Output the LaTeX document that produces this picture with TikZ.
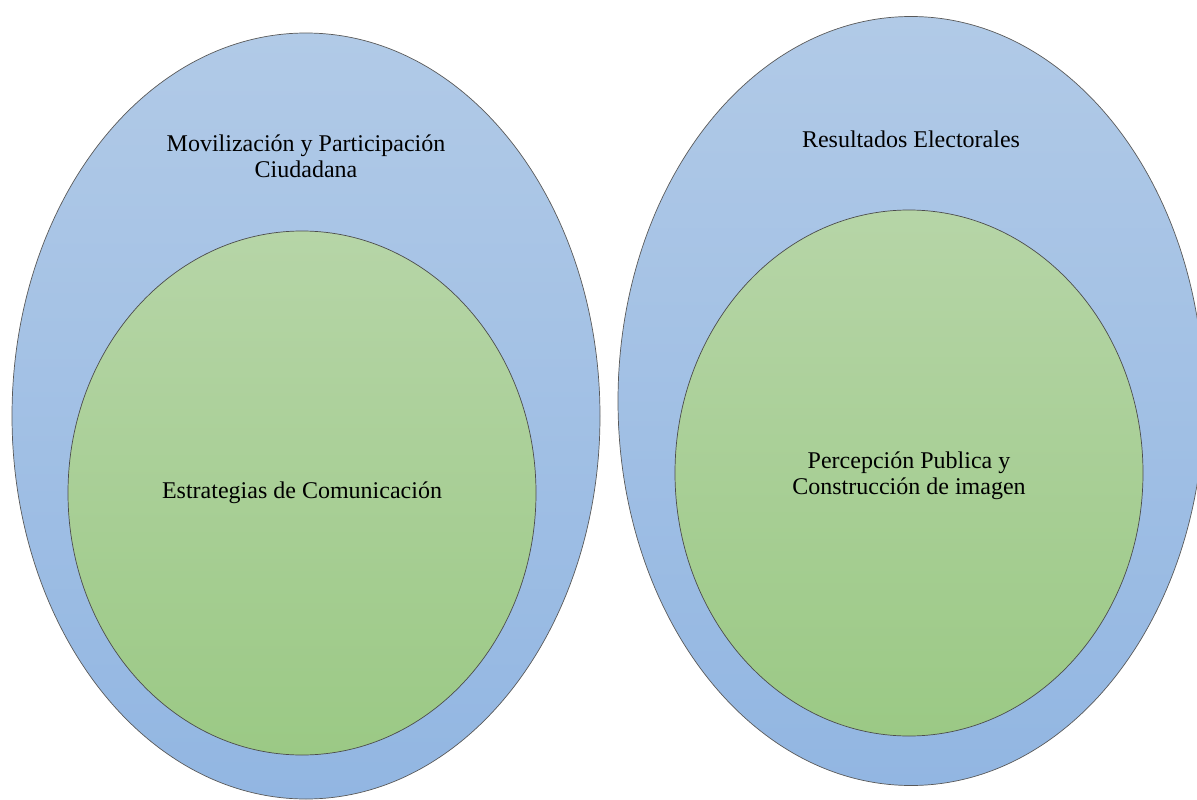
\documentclass[tikz,border=0pt]{standalone}
\usepackage{fontspec}
\setmainfont{Liberation Serif}
\usetikzlibrary{shapes.geometric}

\definecolor{bluetop}{HTML}{B1CAE7}
\definecolor{bluebot}{HTML}{92B6E2}
\definecolor{greentop}{HTML}{B6D5A7}
\definecolor{greenbot}{HTML}{9BC985}

\begin{document}
\begin{tikzpicture}[x=1pt, y=-1pt,
		every node/.style={font=\fontsize{24}{26}\selectfont, align=center},
		outer/.style={ellipse, draw=black!65, line width=0.7pt, inner sep=0pt,
			top color=bluetop, bottom color=bluebot},
		inner/.style={ellipse, draw=black!70, line width=0.7pt, inner sep=0pt,
			top color=greentop, bottom color=greenbot}]
	\useasboundingbox (0,0) rectangle (1197,800);
	% left pair
	\node[outer, minimum width=588pt, minimum height=766pt] (movil) at (306,416) {};
	\node[inner, minimum width=468pt, minimum height=524pt] (estrat) at (302,493) {};
	\node (movtxt) at (306,156) {Movilización y Participación\\Ciudadana};
	\node (esttxt) at (estrat) {Estrategias de Comunicación};
	% right pair
	\node[outer, minimum width=586pt, minimum height=769pt] (result) at (911,401) {};
	\node[inner, minimum width=468pt, minimum height=526pt] (percep) at (909,473) {};
	\node (restxt) at (911,139) {Resultados Electorales};
	\node (pertxt) at (909,476) {Percepción Publica y\\Construcción de imagen};
\end{tikzpicture}
\end{document}
